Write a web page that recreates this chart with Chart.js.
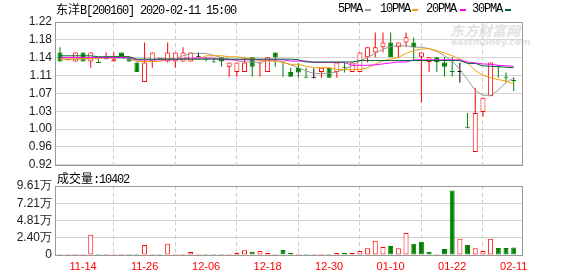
<!DOCTYPE html>
<html><head><meta charset="utf-8">
<script src="https://cdn.jsdelivr.net/npm/chart.js@4.4.1/dist/chart.umd.min.js"></script>
<style>
html,body{margin:0;padding:0;background:#fff;}
#wrap{position:relative;width:578px;height:276px;overflow:hidden;background:#fff;}
canvas{position:absolute;left:0;}
.t{position:absolute;white-space:nowrap;font-size:12px;line-height:12px;color:#000;}
.m{font-family:"Liberation Mono",monospace;letter-spacing:-1.2px;}
.c{font-family:"Noto Sans CJK SC",sans-serif;letter-spacing:0;}
.mk{position:absolute;width:6px;height:2px;}
#wm1{position:absolute;left:450px;top:22px;font:italic bold 14px "Noto Sans CJK SC",sans-serif;color:#e2e2e2;line-height:16px;}
#wm2{position:absolute;left:451px;top:38px;font:bold 9px "DejaVu Sans",sans-serif;color:#e2e2e2;line-height:9px;}
</style></head><body>
<div id="wrap">
  <div id="wm1">东方财富网</div>
  <div id="wm2">eastmoney.com</div>
  <canvas id="pc" width="578" height="176" style="top:0"></canvas>
  <canvas id="vc" width="578" height="106" style="top:170px"></canvas>
  <div class="t" style="left:56px;top:3px"><span class="c">东洋</span><span class="m">B[200160] 2020-02-11 15:00</span></div>
  <div class="t m" style="left:338px;top:3px">5PMA</div><div class="mk" style="left:365px;top:9px;background:#999999"></div>
  <div class="t m" style="left:380px;top:3px">10PMA</div><div class="mk" style="left:412px;top:9px;background:#f4a000"></div>
  <div class="t m" style="left:426px;top:3px">20PMA</div><div class="mk" style="left:460px;top:9px;background:#ff00ff"></div>
  <div class="t m" style="left:472px;top:3px">30PMA</div><div class="mk" style="left:505px;top:9px;background:#00663a"></div>
  <div class="t" id="vlabel" style="left:57px;top:172px"></div>
</div>
<script>
const dates = ['11-11','11-12','11-13','11-14','11-15','11-18','11-19','11-20','11-21','11-22',
 '11-25','11-26','11-27','11-28','11-29','12-02','12-03','12-04','12-05','12-06',
 '12-09','12-10','12-11','12-12','12-13','12-16','12-17','12-18','12-19','12-20',
 '12-23','12-24','12-25','12-26','12-27','12-30','12-31','01-02','01-03','01-06',
 '01-07','01-08','01-09','01-10','01-13','01-14','01-15','01-16','01-17','01-20',
 '01-21','01-22','01-23','02-03','02-04','02-05','02-06','02-07','02-10','02-11'];
const open = [1.156,1.140,1.137,1.156,1.137,1.135,1.142,1.137,1.156,1.146,
 1.135,1.094,1.137,1.140,1.137,1.137,1.137,1.137,1.146,1.142,
 1.136,1.146,1.126,1.115,1.115,1.146,1.133,1.115,1.156,1.136,
 1.115,1.124,1.104,1.102,1.115,1.124,1.115,1.125,1.115,1.115,
 1.146,1.156,1.167,1.177,1.167,1.177,1.177,1.147,1.136,1.146,
 1.135,1.116,1.115,0.998,0.947,1.031,1.064,1.127,1.104,1.098];
const high = [1.167,1.142,1.156,1.156,1.156,1.142,1.156,1.156,1.156,1.146,
 1.135,1.177,1.156,1.145,1.177,1.156,1.167,1.156,1.156,1.146,
 1.144,1.146,1.135,1.135,1.146,1.146,1.135,1.146,1.156,1.136,
 1.124,1.134,1.124,1.123,1.124,1.124,1.135,1.135,1.135,1.156,
 1.167,1.198,1.198,1.198,1.177,1.198,1.188,1.156,1.146,1.146,
 1.146,1.146,1.135,1.029,1.082,1.061,1.135,1.128,1.114,1.104];
const low = [1.137,1.139,1.137,1.137,1.124,1.134,1.142,1.137,1.146,1.137,
 1.115,1.094,1.124,1.140,1.135,1.124,1.137,1.137,1.146,1.137,
 1.135,1.126,1.105,1.105,1.115,1.105,1.105,1.115,1.126,1.105,
 1.105,1.103,1.103,1.102,1.103,1.103,1.103,1.114,1.115,1.115,
 1.135,1.146,1.156,1.146,1.146,1.167,1.139,1.051,1.115,1.115,
 1.105,1.105,1.093,0.997,0.947,1.021,1.064,1.103,1.093,1.075];
const close = [1.137,1.141,1.156,1.137,1.156,1.134,1.145,1.142,1.146,1.137,
 1.115,1.135,1.156,1.145,1.156,1.156,1.156,1.156,1.146,1.141,
 1.135,1.137,1.135,1.135,1.135,1.126,1.135,1.146,1.146,1.135,
 1.105,1.114,1.103,1.102,1.124,1.103,1.135,1.124,1.135,1.156,
 1.167,1.167,1.177,1.146,1.177,1.188,1.167,1.156,1.146,1.136,
 1.126,1.115,1.115,0.997,1.029,1.061,1.135,1.126,1.103,1.096];
const ma5 = [1.142,1.142,1.142,1.142,1.142,1.144,1.144,1.144,1.144,1.142,
 1.138,1.138,1.138,1.143,1.143,1.143,1.149,1.154,1.154,1.154,
 1.150,1.145,1.142,1.1385,1.136,1.136,1.135,1.1385,1.1385,1.136,
 1.130,1.124,1.117,1.112,1.112,1.112,1.115,1.121,1.128,1.1385,
 1.1455,1.154,1.163,1.168,1.170,1.170,1.167,1.167,1.164,1.158,
 1.149,1.1385,1.120,1.099,1.076,1.066,1.066,1.077,1.093,1.103];
const ma10 = [1.142,1.142,1.143,1.143,1.143,1.143,1.147,1.147,1.147,1.147,
 1.137,1.137,1.137,1.137,1.142,1.142,1.142,1.142,1.142,1.149,
 1.149,1.149,1.147,1.147,1.144,1.144,1.1385,1.1385,1.1385,1.135,
 1.131,1.131,1.127,1.124,1.124,1.124,1.120,1.120,1.120,1.120,
 1.124,1.1315,1.1385,1.142,1.1455,1.154,1.160,1.163,1.164,1.160,
 1.155,1.149,1.142,1.134,1.118,1.108,1.103,1.099,1.096,1.090];
const ma20 = [1.1455,1.1455,1.1455,1.1455,1.1455,1.1455,1.1455,1.1455,1.1455,1.1455,
 1.1406,1.1406,1.1406,1.1406,1.1406,1.1406,1.144,1.144,1.144,1.144,
 1.144,1.1406,1.1406,1.1406,1.1406,1.1406,1.1406,1.1406,1.1406,1.1406,
 1.138,1.138,1.138,1.135,1.135,1.135,1.135,1.135,1.129,1.129,
 1.129,1.130,1.132,1.134,1.136,1.136,1.1405,1.1405,1.1405,1.1405,
 1.1405,1.1405,1.1405,1.136,1.134,1.132,1.131,1.129,1.128,1.127];
const ma30 = [1.149,1.149,1.149,1.149,1.149,1.147,1.147,1.147,1.147,1.147,
 1.142,1.142,1.142,1.142,1.142,1.142,1.142,1.142,1.142,1.142,
 1.142,1.142,1.142,1.142,1.142,1.142,1.142,1.142,1.142,1.142,
 1.142,1.1406,1.136,1.136,1.136,1.136,1.136,1.136,1.136,1.139,
 1.139,1.139,1.139,1.139,1.139,1.139,1.139,1.139,1.139,1.139,
 1.139,1.139,1.139,1.133,1.133,1.128,1.127,1.126,1.125,1.124];
const volume = [800,800,800,800,28100,800,800,800,800,800,
 800,14100,800,800,15500,800,800,4200,800,800,
 800,800,800,2800,6600,4600,5600,2800,800,7000,
 2800,1400,1400,1400,1400,1400,2800,2800,2800,5600,
 9400,19700,11300,12700,9400,30500,15500,18300,4200,1400,
 8400,90000,22500,14100,9400,5600,22500,9900,9900,10402];
const volUp = [0,1,1,1,1,0,1,1,1,0,
 0,1,1,0,1,1,1,1,1,0,
 0,0,1,1,1,0,1,1,0,0,
 0,1,0,1,1,0,1,0,1,1,
 1,1,1,0,1,1,0,0,0,0,
 0,0,1,0,1,1,1,0,0,0];
const priceTickLabels = ['0.92','0.96','1.00','1.03','1.07','1.11','1.14','1.18','1.22'];
const volTickLabels = ['0','2.40万','4.81万','7.21万','9.61万'];
const xTickLabels = ['11-14','11-26','12-06','12-18','12-30','01-10','01-22','02-11'];

const PMIN = 0.92, PMAX = 1.22, VMAX = 96100;
const XMIN = -0.52, XMAX = 60.08;
const RED = '#ff0000', GREEN = '#008000', BLACK = '#000000';
const idx = dates.map((d, i) => i);
const cColor = idx.map(i => close[i] > open[i] ? RED : (close[i] < open[i] ? GREEN : BLACK));
const cFill = idx.map(i => close[i] > open[i] ? '#ffffff' : cColor[i]);
const vColor = idx.map(i => volUp[i] ? RED : GREEN);
const vFill = idx.map(i => volUp[i] ? '#ffffff' : GREEN);

document.getElementById('vlabel').innerHTML =
  '<span class="c">成交量</span><span class="m">:' + volume[volume.length - 1] + '</span>';

const frame = {
  id: 'frame',
  afterDraw(chart) {
    const {ctx, chartArea: a} = chart;
    ctx.save();
    ctx.strokeStyle = '#999999';
    ctx.lineWidth = 1;
    ctx.strokeRect(Math.round(a.left) - 0.5, Math.round(a.top) + 0.5,
      Math.round(a.right) - Math.round(a.left) + 1, Math.round(a.bottom) - Math.round(a.top));
    ctx.restore();
  }
};

const xTickIdx = xTickLabels.map(l => dates.indexOf(l));
function xScale(showLabels) {
  return {
    type: 'linear', min: XMIN, max: XMAX, offset: false,
    afterBuildTicks: s => { s.ticks = xTickIdx.map(v => ({value: v})); },
    afterFit: s => { s.height = showLabels ? 21 : 0; },
    ticks: {display: showLabels, autoSkip: false, maxRotation: 0, padding: 5,
      color: RED, font: {family: 'Liberation Sans', size: 11},
      callback: v => dates[v]},
    grid: {color: '#cccccc', lineWidth: 1, drawTicks: false},
    border: {display: false, dash: [4, 3]}
  };
}
function yScale(min, max, labels) {
  const n = labels.length - 1;
  return {
    type: 'linear', min: min, max: max,
    afterBuildTicks: s => { s.ticks = labels.map((l, k) => ({value: min + k * (max - min) / n})); },
    afterFit: s => { s.width = 56; },
    ticks: {autoSkip: false, padding: 4, color: '#222222',
      font: {family: 'Liberation Sans', size: 12},
      callback: (v, k) => labels[k]},
    grid: {color: '#d4d4d4', lineWidth: 1, drawTicks: false},
    border: {display: false}
  };
}
const lineDs = (arr, color, order) => ({
  type: 'line', data: idx.map(i => ({x: i, y: arr[i]})), borderColor: color,
  borderWidth: 1, pointRadius: 0, tension: 0, order: order
});

new Chart(document.getElementById('pc'), {
  type: 'bar',
  data: {datasets: [
    lineDs(ma30, '#00663a', 1),
    lineDs(ma20, '#ff00ff', 2),
    lineDs(ma10, '#f4a000', 3),
    lineDs(ma5, '#999999', 4),
    {type: 'bar', data: idx.map(i => ({x: i, y: [open[i], close[i]]})),
     backgroundColor: cFill, borderColor: cColor, borderWidth: 1, borderSkipped: false,
     barThickness: 5, minBarLength: 1, grouped: false, inflateAmount: 0, order: 5},
    {type: 'bar', data: idx.map(i => ({x: i, y: [low[i], high[i]]})),
     backgroundColor: cColor, borderWidth: 0, borderSkipped: false,
     barThickness: 1, minBarLength: 1, grouped: false, inflateAmount: 0, order: 6}
  ]},
  options: {
    responsive: false, animation: false, devicePixelRatio: 1,
    layout: {padding: {left: 0, top: 22, right: 56, bottom: 11}},
    plugins: {legend: {display: false}, tooltip: {enabled: false}},
    scales: {x: xScale(false), y: yScale(PMIN, PMAX, priceTickLabels)}
  },
  plugins: [frame]
});

new Chart(document.getElementById('vc'), {
  type: 'bar',
  data: {datasets: [
    {data: idx.map(i => ({x: i, y: volume[i]})),
     backgroundColor: vFill, borderColor: vColor, borderWidth: 1, borderSkipped: false,
     barThickness: 5, minBarLength: 1, grouped: false, inflateAmount: 0}
  ]},
  options: {
    responsive: false, animation: false, devicePixelRatio: 1,
    layout: {padding: {left: 0, top: 16, right: 56, bottom: 0}},
    plugins: {legend: {display: false}, tooltip: {enabled: false}},
    scales: {x: xScale(true), y: yScale(0, VMAX, volTickLabels)}
  },
  plugins: [frame]
});
</script>
</body></html>
